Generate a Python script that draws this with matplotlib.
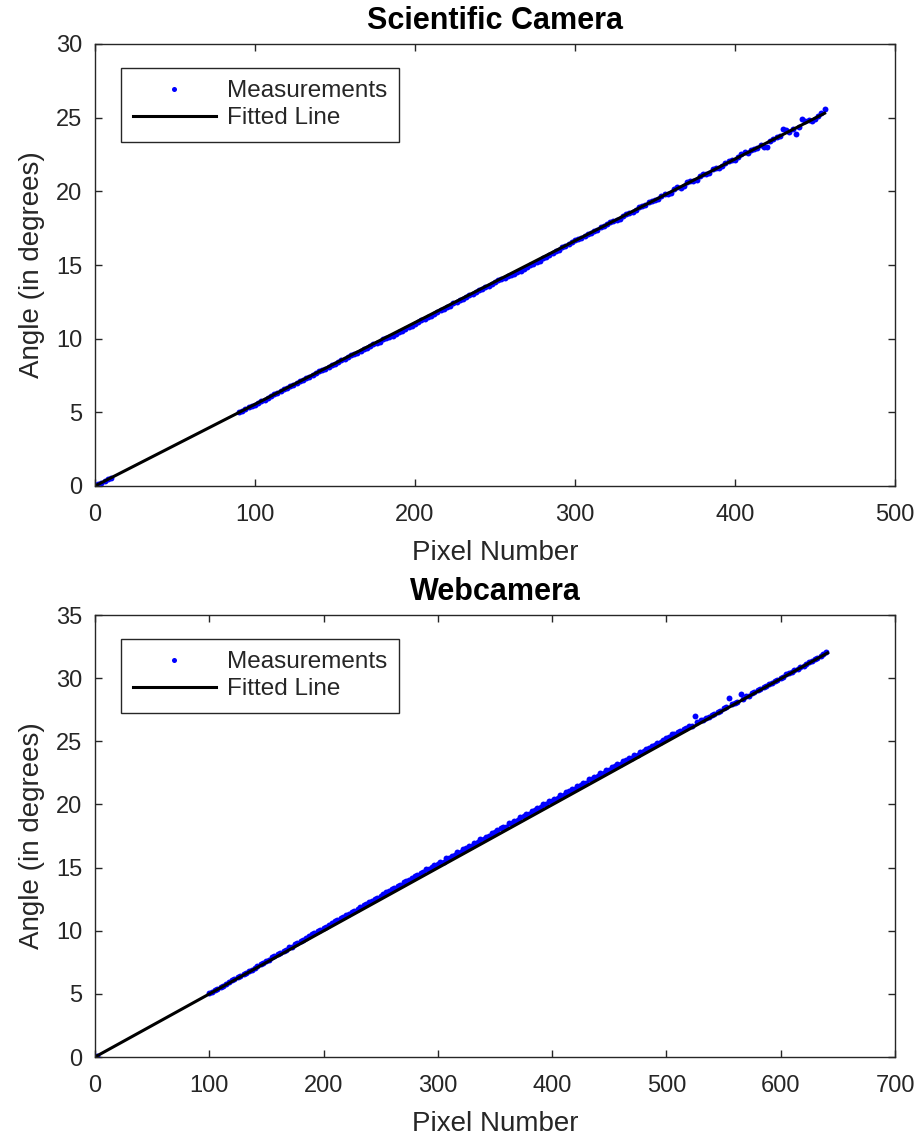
import matplotlib
matplotlib.use("Agg")
import matplotlib.pyplot as plt

plt.rcParams['font.family'] = ['Liberation Sans', 'DejaVu Sans']

# ---------------- Scientific camera data ----------------
sci_x = [0, 2, 4, 6, 8, 10,
         90, 94, 98, 102, 106, 110, 114, 118, 122, 126, 130, 134, 138, 142, 146,
         150, 154, 158, 162, 166, 170, 174, 178, 182, 186, 190, 194, 198, 202, 206,
         210, 214, 218, 222, 226, 230, 234, 238, 242, 246, 250, 254, 258, 262, 266,
         270, 274, 278, 282, 286, 290, 294, 298, 302, 306, 310, 314, 318, 322, 326,
         330, 334, 338, 342, 346, 350, 354, 358, 362, 366, 370, 374, 378, 382, 386,
         390, 394, 398, 402, 406, 410, 414, 418, 422, 426, 430, 434, 438, 442, 446,
         450, 454, 456]
sci_y = [0.05, 0.12, 0.22, 0.33, 0.45, 0.55,
         5.00, 5.20, 5.45, 5.65, 5.87, 6.12, 6.30, 6.55, 6.76, 7.00, 7.20, 7.42, 7.66, 7.86, 8.08,
         8.30, 8.52, 8.75, 8.95, 9.18, 9.40, 9.62, 9.80, 10.02, 10.20, 10.42, 10.65, 10.85, 11.10, 11.33,
         11.55, 11.80, 12.02, 12.25, 12.50, 12.72, 12.95, 13.15, 13.40, 13.60, 13.82, 14.05, 14.22, 14.40, 14.60,
         14.85, 15.05, 15.30, 15.55, 15.80, 16.05, 16.30, 16.55, 16.75, 17.00, 17.15, 17.40, 17.62, 17.90, 18.05,
         18.30, 18.55, 18.72, 19.00, 19.25, 19.38, 19.70, 19.80, 20.15, 20.25, 20.60, 20.70, 21.05, 21.15, 21.50,
         21.60, 21.90, 22.10, 22.35, 22.70, 22.80, 22.95, 23.00, 23.45, 23.70, 24.20, 24.05, 23.90, 24.90, 24.85,
         24.90, 25.30, 25.60]
# intermediate samples of the scientific camera
sci_x2 = [92, 96, 100, 104, 108, 112, 116, 120, 124, 128, 132, 136, 140, 144, 148,
          152, 156, 160, 164, 168, 172, 176, 180, 184, 188, 192, 196, 200, 204, 208,
          212, 216, 220, 224, 228, 232, 236, 240, 244, 248, 252, 256, 260, 264, 268,
          272, 276, 280, 284, 288, 292, 296, 300, 304, 308, 312, 316, 320, 324, 328,
          332, 336, 340, 344, 348, 352, 356, 360, 364, 368, 372, 376, 380, 384, 388,
          392, 396, 400, 404, 408, 412, 416, 420, 424, 428, 432, 436, 440, 444, 448, 452]
sci_y2 = [5.08, 5.35, 5.52, 5.78, 5.97, 6.22, 6.42, 6.64, 6.86, 7.10, 7.30, 7.52, 7.78, 7.96, 8.18,
          8.40, 8.62, 8.86, 9.05, 9.30, 9.50, 9.72, 9.95, 10.12, 10.35, 10.55, 10.80, 11.00, 11.25, 11.48,
          11.70, 11.95, 12.18, 12.40, 12.62, 12.85, 13.02, 13.28, 13.50, 13.70, 13.95, 14.15, 14.32, 14.52, 14.72,
          14.98, 15.22, 15.45, 15.70, 15.95, 16.22, 16.40, 16.68, 16.85, 17.12, 17.28, 17.55, 17.75, 18.00, 18.15,
          18.45, 18.60, 18.92, 19.05, 19.35, 19.50, 19.82, 19.92, 20.28, 20.38, 20.70, 20.80, 21.15, 21.25, 21.60,
          21.70, 22.05, 22.15, 22.55, 22.60, 22.90, 23.15, 23.00, 23.55, 23.75, 24.15, 24.25, 24.35, 24.80, 24.80, 25.10]
sci_fit_x = [0, 456]
sci_fit_y = [0, 25.3]

# ---------------- Webcamera data ----------------
web_x = [0, 2,
         100, 105, 110, 115, 120, 125, 130, 135, 140, 145, 150, 155, 160, 165, 170, 175, 180, 185, 190, 195,
         200, 205, 210, 215, 220, 225, 230, 235, 240, 245, 250, 255, 260, 265, 270, 275, 280, 285, 290, 295,
         300, 305, 310, 315, 320, 325, 330, 335, 340, 345, 350, 355, 360, 365, 370, 375, 380, 385, 390, 395,
         400, 405, 410, 415, 420, 425, 430, 435, 440, 445, 450, 455, 460, 465, 470, 475, 480, 485, 490, 495,
         500, 505, 510, 515, 520, 525, 530, 535, 540, 545, 550, 555, 560, 565, 570, 575, 580, 585, 590, 595,
         600, 605, 610, 615, 620, 625, 630, 635, 640]
web_y = [0.0, 0.1,
         5.05, 5.30, 5.55, 5.82, 6.06, 6.32, 6.57, 6.82, 7.08, 7.33, 7.62, 7.88, 8.15, 8.40, 8.68, 8.92, 9.20, 9.46, 9.72, 9.95,
         10.25, 10.48, 10.75, 10.98, 11.25, 11.48, 11.75, 12.02, 12.25, 12.55, 12.75, 13.05, 13.30, 13.55, 13.85, 14.05, 14.35, 14.55, 14.85, 15.05,
         15.25, 15.45, 15.72, 16.00, 16.22, 16.55, 16.72, 17.00, 17.28, 17.52, 17.78, 18.10, 18.25, 18.55, 18.75, 19.05, 19.28, 19.52, 19.80, 20.02,
         20.30, 20.48, 20.75, 21.05, 21.22, 21.52, 21.72, 22.05, 22.22, 22.52, 22.72, 23.02, 23.18, 23.48, 23.68, 23.92, 24.22, 24.48, 24.68, 24.98,
         25.25, 25.55, 25.70, 25.95, 26.25, 27.00, 26.70, 26.85, 27.10, 27.35, 27.60, 28.40, 28.05, 28.75, 28.55, 28.80, 29.05, 29.30, 29.55, 29.80,
         30.05, 30.30, 30.50, 30.75, 31.00, 31.25, 31.55, 31.75, 32.05]
# intermediate samples of the webcamera
web_x2 = [102, 107, 112, 117, 122, 127, 132, 137, 142, 147, 152, 157, 162, 167, 172, 177, 182, 187, 192, 197,
          202, 207, 212, 217, 222, 227, 232, 237, 242, 247, 252, 257, 262, 267, 272, 277, 282, 287, 292, 297,
          302, 307, 312, 317, 322, 327, 332, 337, 342, 347, 352, 357, 362, 367, 372, 377, 382, 387, 392, 397,
          402, 407, 412, 417, 422, 427, 432, 437, 442, 447, 452, 457, 462, 467, 472, 477, 482, 487, 492, 497,
          502, 507, 512, 517, 522, 527, 532, 537, 542, 547, 552, 557, 562, 567, 572, 577, 582, 587, 592, 597,
          602, 607, 612, 617, 622, 627, 632, 637]
web_y2 = [5.12, 5.38, 5.65, 5.90, 6.14, 6.40, 6.66, 6.92, 7.18, 7.45, 7.70, 7.98, 8.22, 8.50, 8.75, 9.02, 9.28, 9.55, 9.78, 10.08,
          10.32, 10.58, 10.82, 11.10, 11.32, 11.60, 11.85, 12.10, 12.38, 12.60, 12.90, 13.12, 13.40, 13.65, 13.92, 14.15, 14.42, 14.68, 14.90, 15.20,
          15.42, 15.72, 15.92, 16.22, 16.45, 16.72, 16.95, 17.25, 17.45, 17.72, 18.00, 18.20, 18.50, 18.70, 19.00, 19.25, 19.48, 19.72, 20.00, 20.25,
          20.42, 20.75, 20.95, 21.25, 21.45, 21.70, 22.00, 22.20, 22.45, 22.70, 22.95, 23.20, 23.45, 23.65, 23.95, 24.15, 24.40, 24.65, 24.85, 25.12,
          25.35, 25.55, 25.80, 26.02, 26.25, 26.50, 26.72, 26.95, 27.20, 27.42, 27.68, 27.92, 28.15, 28.38, 28.62, 28.88, 29.12, 29.40, 29.62, 29.88,
          30.12, 30.38, 30.62, 30.88, 31.12, 31.38, 31.62, 31.88]
web_fit_x = [0, 641]
web_fit_y = [0, 32.0]

panels = [
    dict(title="Scientific Camera", x=sci_x + sci_x2, y=sci_y + sci_y2, fx=sci_fit_x, fy=sci_fit_y,
         xlim=(0, 500), ylim=(0, 30), xt=range(0, 501, 100), yt=range(0, 31, 5)),
    dict(title="Webcamera", x=web_x + web_x2, y=web_y + web_y2, fx=web_fit_x, fy=web_fit_y,
         xlim=(0, 700), ylim=(0, 35), xt=range(0, 701, 100), yt=range(0, 36, 5)),
]

fig = plt.figure(figsize=(9.22, 11.41), dpi=100)
axes_rects = [[95/922, 1 - 486/1141, 800/922, 442/1141],
              [95/922, 1 - 1057/1141, 800/922, 442/1141]]

gray = '#262626'
for rect, p in zip(axes_rects, panels):
    ax = fig.add_axes(rect)
    ax.plot(p['x'], p['y'], linestyle='none', marker='.', color=(0, 0, 1),
            markersize=8.5, markeredgewidth=0, label='Measurements')
    ax.plot(p['fx'], p['fy'], color='black', linewidth=2.2, label='Fitted Line')
    ax.set_xlim(*p['xlim'])
    ax.set_ylim(*p['ylim'])
    ax.set_xticks(list(p['xt']))
    ax.set_yticks(list(p['yt']))
    ax.tick_params(direction='in', length=5, width=1, top=True, right=True,
                   labelsize=17, colors=gray)
    ax.tick_params(axis='y', pad=9)
    ax.tick_params(axis='x', pad=13)
    for s in ax.spines.values():
        s.set_color(gray)
        s.set_linewidth(1)
    ax.set_xlabel('Pixel Number', fontsize=20, color=gray, labelpad=10)
    ax.set_ylabel('Angle (in degrees)', fontsize=20, color=gray, labelpad=8)
    ax.set_title(p['title'], fontsize=22, fontweight='bold', color='black', pad=11)
    leg = ax.legend(loc='upper left', bbox_to_anchor=(0.0325, 0.946), fontsize=17.5,
                    fancybox=False, edgecolor=gray, framealpha=1, borderpad=0.5,
                    handlelength=3.4, handletextpad=0.45, labelspacing=0.22,
                    borderaxespad=0, markerscale=0.85)
    leg.get_frame().set_linewidth(1)
    for t in leg.get_texts():
        t.set_color(gray)

fig.savefig('out.png', dpi=100)
